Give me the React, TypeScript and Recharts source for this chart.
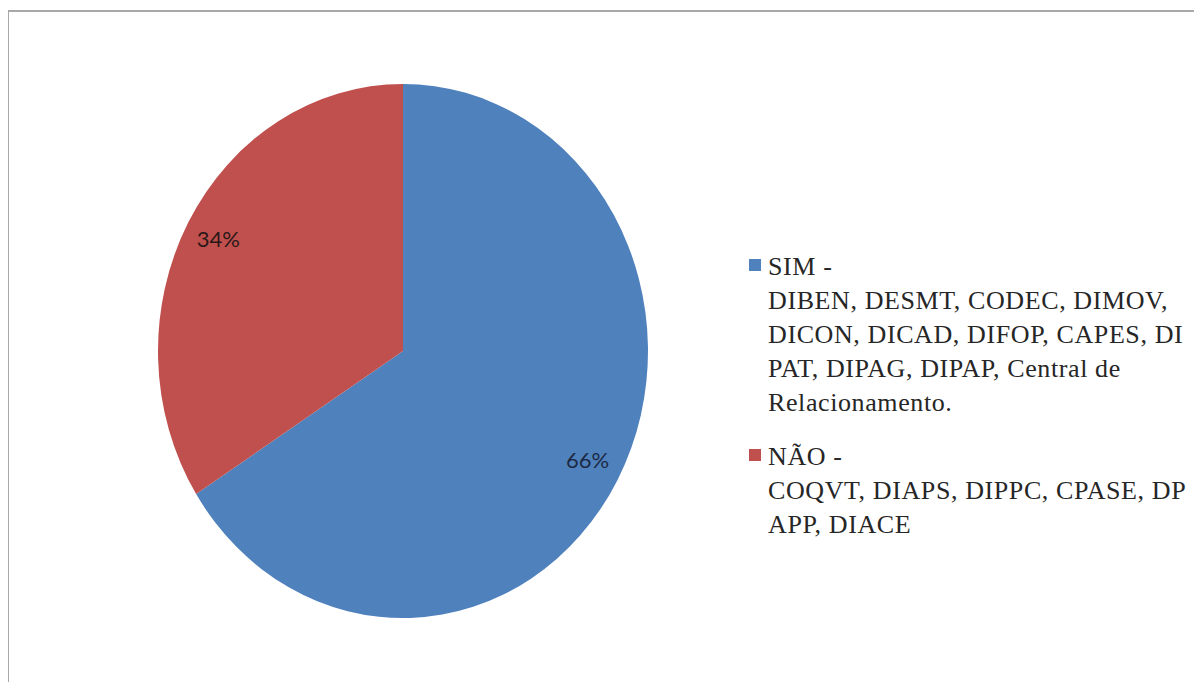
import React from "react";
import { PieChart, Pie, Cell, Legend, Sector } from "recharts";

const categories = ["SIM", "NÃO"];
const shares = [66, 34];
const legendLines = [
  [
    "SIM -",
    "DIBEN, DESMT, CODEC, DIMOV,",
    "DICON, DICAD, DIFOP, CAPES, DI",
    "PAT, DIPAG, DIPAP, Central de",
    "Relacionamento.",
  ],
  ["NÃO -", "COQVT, DIAPS, DIPPC, CPASE, DP", "APP, DIACE"],
];

const COLORS = ["#4F81BD", "#C0504D"];
const LABEL_COLORS = ["#1d2a45", "#2a1818"];
const Y_STRETCH = 1.09;
const RAD = Math.PI / 180;

const data = categories.map((name, i) => ({ name, value: shares[i] }));

// the reference pie is a bit taller than wide
const EllipseSector = (props: any) => {
  const { cx, cy } = props;
  return (
    <g transform={`translate(${cx} ${cy}) scale(1 ${Y_STRETCH}) translate(${-cx} ${-cy})`}>
      <Sector {...props} />
    </g>
  );
};

const renderLabel = (props: any) => {
  const { cx, cy, midAngle, outerRadius, percent, index } = props;
  const r = outerRadius * 0.86;
  const x = cx + r * Math.cos(-midAngle * RAD);
  const y = cy + r * Y_STRETCH * Math.sin(-midAngle * RAD);
  return (
    <text
      x={x}
      y={y - 2}
      textAnchor="middle"
      dominantBaseline="central"
      fontFamily="Lato, 'Open Sans', sans-serif"
      fontSize={22}
      fill={LABEL_COLORS[index]}
    >
      {`${Math.round(percent * 100)}%`}
    </text>
  );
};

const renderLegend = (props: any) => {
  const payload = [...(props.payload || [])].sort(
    (a: any, b: any) => categories.indexOf(a.value) - categories.indexOf(b.value)
  );
  return (
    <div
      style={{
        fontFamily: "'Liberation Serif', 'Times New Roman', serif",
        fontSize: 26,
        letterSpacing: 0.6,
        lineHeight: "34px",
        color: "#262626",
      }}
    >
      {payload.map((entry: any, i: number) => {
        const idx = categories.indexOf(entry.value);
        return (
          <div key={i} style={{ position: "relative", paddingLeft: 20, marginBottom: 20 }}>
            <span
              style={{
                position: "absolute",
                left: 1,
                top: 9,
                width: 12,
                height: 12,
                background: COLORS[idx],
              }}
            />
            {legendLines[idx].map((line, j) => (
              <div key={j} style={{ whiteSpace: "nowrap" }}>
                {line}
              </div>
            ))}
          </div>
        );
      })}
    </div>
  );
};

export default function App() {
  return (
    <div style={{ position: "relative", width: 1194, height: 674, overflow: "hidden", background: "#fff" }}>
      <div
        style={{
          position: "absolute",
          left: -1,
          top: 2,
          width: 1400,
          height: 900,
          borderTop: "2px solid #a8a8a8",
          borderLeft: "2px solid #a8a8a8",
        }}
      />
      <div style={{ position: "absolute", left: -8, top: -8 }}>
        <PieChart width={1202} height={682} margin={{ top: 0, right: 0, bottom: 0, left: 0 }}>
          <Pie
            data={data}
            dataKey="value"
            nameKey="name"
            cx={403}
            cy={351}
            outerRadius={245}
            startAngle={90}
            endAngle={-270}
            stroke="none"
            label={renderLabel}
            labelLine={false}
            shape={EllipseSector}
            isAnimationActive={false}
          >
            {data.map((_, i) => (
              <Cell key={i} fill={COLORS[i]} />
            ))}
          </Pie>
          <Legend
            layout="vertical"
            align="right"
            verticalAlign="top"
            content={renderLegend}
            wrapperStyle={{ left: 748, top: 250, width: 450, right: "auto" }}
          />
        </PieChart>
      </div>
    </div>
  );
}
